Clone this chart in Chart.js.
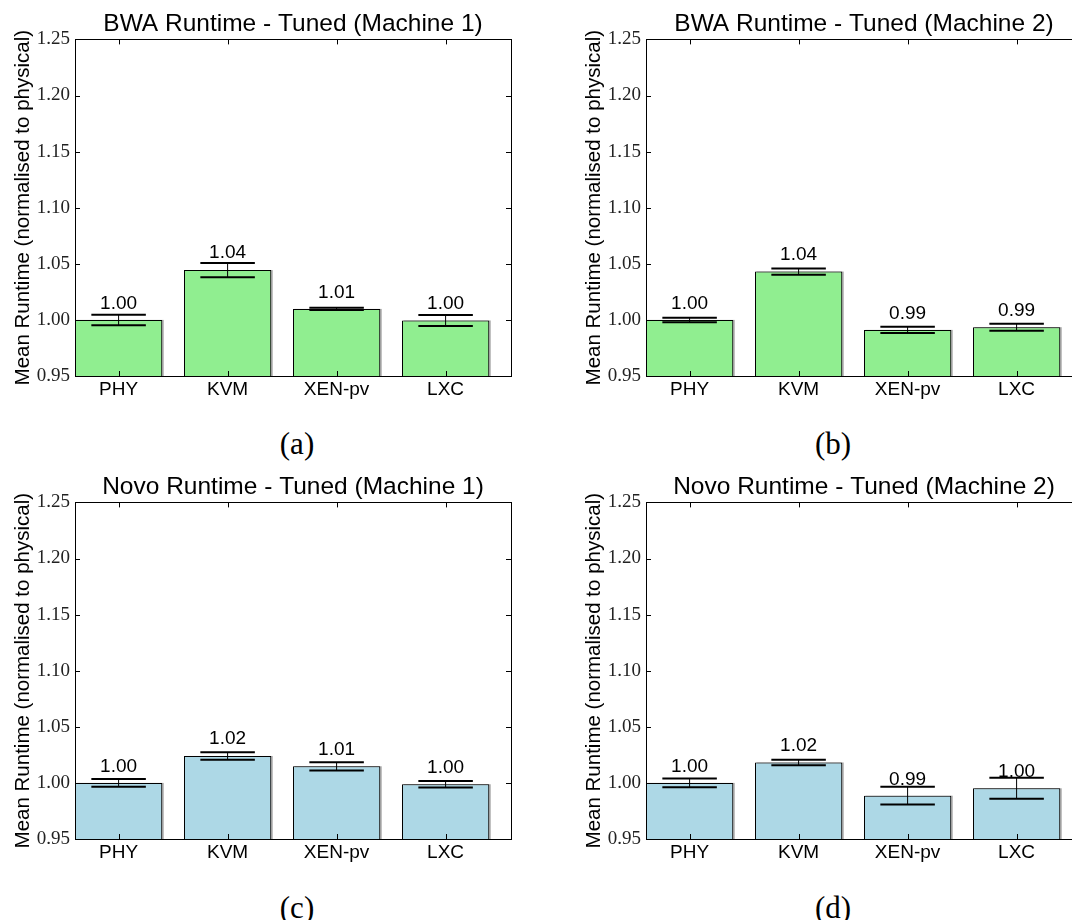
<!DOCTYPE html>
<html>
<head>
<meta charset="utf-8">
<script src="https://cdn.jsdelivr.net/npm/chart.js@4.4.1/dist/chart.umd.min.js"></script>
<style>
  html, body { margin: 0; padding: 0; background: #fff; }
  #page { position: relative; width: 1072px; height: 920px; overflow: hidden; background: #fff; }
  .panel { position: absolute; width: 536px; height: 420px; }
  .panel canvas { display: block; }
  .cap { position: absolute; font-family: 'Liberation Serif', serif; font-size: 31px; color: #000;
         line-height: 1; white-space: nowrap; transform: translate(-50%, -50%); }
</style>
</head>
<body>
<div id="page">
  <div class="panel" style="left:0;top:0"><canvas id="bwa1" width="536" height="420"></canvas></div>
  <div class="panel" style="left:571px;top:0"><canvas id="bwa2" width="536" height="420"></canvas></div>
  <div class="panel" style="left:0;top:463px"><canvas id="novo1" width="536" height="420"></canvas></div>
  <div class="panel" style="left:571px;top:463px"><canvas id="novo2" width="536" height="420"></canvas></div>
  <div class="cap" style="left:297px;top:443px">(a)</div>
  <div class="cap" style="left:833px;top:443px">(b)</div>
  <div class="cap" style="left:297px;top:907px">(c)</div>
  <div class="cap" style="left:833px;top:907px">(d)</div>
</div>
<script>
// Platforms compared in every panel
const categories = ['PHY', 'KVM', 'XEN-pv', 'LXC'];
// Y-axis tick values
const yTicks = [0.95, 1.00, 1.05, 1.10, 1.15, 1.20, 1.25];

// Mean runtime normalised to physical, with error half-widths
const bwaM1Means = [1.000, 1.0444, 1.0098, 0.9995];
const bwaM1Errors = [0.0047, 0.0064, 0.0010, 0.0049];
const bwaM2Means = [1.000, 1.0431, 0.9911, 0.9935];
const bwaM2Errors = [0.0020, 0.0028, 0.0028, 0.0031];
const novoM1Means = [1.000, 1.0240, 1.0148, 0.9988];
const novoM1Errors = [0.0035, 0.0033, 0.0037, 0.0030];
const novoM2Means = [1.000, 1.0182, 0.9886, 0.9952];
const novoM2Errors = [0.0039, 0.0024, 0.0079, 0.0094];

Chart.defaults.font.family = "'Liberation Sans', Arial, sans-serif";
Chart.defaults.color = '#000';

// Soft grey edge to the right of each bar
const barShadow = {
  id: 'barShadow',
  beforeDatasetsDraw(chart) {
    const ctx = chart.ctx;
    const area = chart.chartArea;
    ctx.save();
    ctx.beginPath();
    ctx.rect(area.left, area.top, area.right - area.left, area.bottom - area.top);
    ctx.clip();
    ctx.fillStyle = 'rgba(0,0,0,0.35)';
    chart.getDatasetMeta(0).data.forEach(el => {
      const p = el.getProps(['x', 'y', 'base', 'width'], true);
      ctx.fillRect(p.x - p.width / 2 + 1.5, p.y, p.width, p.base - p.y);
    });
    ctx.restore();
  }
};

// Error bars and value labels
const errorBars = {
  id: 'errorBars',
  afterDatasetsDraw(chart, args, opts) {
    const ctx = chart.ctx;
    const xs = chart.scales.x, ys = chart.scales.y;
    const means = opts.means, errs = opts.errors;
    ctx.save();
    ctx.strokeStyle = '#000';
    means.forEach((m, i) => {
      const x = xs.getPixelForValue(i);
      const yHi = ys.getPixelForValue(m + errs[i]);
      const yLo = ys.getPixelForValue(m - errs[i]);
      const xl = xs.getPixelForValue(i - 0.25);
      const xr = xs.getPixelForValue(i + 0.25);
      ctx.lineWidth = 1;
      ctx.beginPath();
      ctx.moveTo(x, yHi); ctx.lineTo(x, yLo);
      ctx.stroke();
      ctx.lineWidth = 2;
      ctx.beginPath();
      ctx.moveTo(xl, yHi); ctx.lineTo(xr, yHi);
      ctx.moveTo(xl, yLo); ctx.lineTo(xr, yLo);
      ctx.stroke();
    });
    ctx.fillStyle = '#000';
    ctx.font = "19px 'Liberation Sans', Arial, sans-serif";
    ctx.textAlign = 'center';
    ctx.textBaseline = 'alphabetic';
    means.forEach((m, i) => {
      ctx.fillText(m.toFixed(2), xs.getPixelForValue(i), ys.getPixelForValue(m * 1.01));
    });
    ctx.restore();
  }
};

// Plot frame with inward ticks on all four sides
const frame = {
  id: 'frame',
  afterDraw(chart) {
    const ctx = chart.ctx;
    const a = chart.chartArea;
    const xs = chart.scales.x, ys = chart.scales.y;
    const L = 5;
    ctx.save();
    ctx.strokeStyle = '#000';
    ctx.lineWidth = 1;
    ctx.strokeRect(Math.round(a.left) + 0.5, Math.round(a.top) + 0.5,
                   Math.round(a.right - a.left), Math.round(a.bottom - a.top));
    ctx.beginPath();
    xs.ticks.forEach(t => {
      const x = Math.round(xs.getPixelForValue(t.value)) + 0.5;
      ctx.moveTo(x, a.bottom); ctx.lineTo(x, a.bottom - L);
      ctx.moveTo(x, a.top); ctx.lineTo(x, a.top + L);
    });
    ys.ticks.forEach(t => {
      const y = Math.round(ys.getPixelForValue(t.value)) + 0.5;
      ctx.moveTo(a.left, y); ctx.lineTo(a.left + L, y);
      ctx.moveTo(a.right, y); ctx.lineTo(a.right - L, y);
    });
    ctx.stroke();
    ctx.restore();
  }
};

function runtimeChart(id, title, means, errors, color) {
  return new Chart(document.getElementById(id), {
    type: 'bar',
    data: {
      datasets: [{
        data: means.map((v, i) => ({ x: i, y: v })),
        backgroundColor: color,
        borderColor: '#000',
        borderWidth: 1,
        base: 0.95,
        categoryPercentage: 1,
        barPercentage: 0.8
      }]
    },
    options: {
      responsive: false,
      animation: false,
      events: [],
      layout: { padding: { top: 0, left: 0, right: 25, bottom: 20 } },
      plugins: {
        legend: { display: false },
        tooltip: { enabled: false },
        title: {
          display: true, text: title, fullSize: false, color: '#000',
          font: { size: 24.5, weight: 'normal' },
          padding: { top: 10, bottom: 0 }
        },
        errorBars: { means, errors }
      },
      scales: {
        x: {
          type: 'linear', min: -0.4, max: 3.6, offset: false,
          afterBuildTicks: s => { s.ticks = categories.map((_, i) => ({ value: i })); },
          afterFit: s => { s.height = 24; },
          grid: { display: false, drawTicks: false, offset: false },
          border: { display: false },
          ticks: {
            callback: v => categories[v], autoSkip: false, maxRotation: 0,
            padding: 2, color: '#000', font: { size: 19 }
          }
        },
        y: {
          type: 'linear', min: 0.95, max: 1.25,
          afterBuildTicks: s => { s.ticks = yTicks.map(v => ({ value: v })); },
          afterFit: s => { s.width = 75; },
          grid: { display: false, drawTicks: false },
          border: { display: false },
          ticks: {
            callback: v => v.toFixed(2), padding: 5, color: '#222',
            font: { family: "'Liberation Serif', serif", size: 19 }
          },
          title: {
            display: true, text: 'Mean Runtime (normalised to physical)', color: '#000',
            font: { size: 20.5 }, padding: { top: 11, bottom: 0 }
          }
        }
      }
    },
    plugins: [barShadow, errorBars, frame]
  });
}

runtimeChart('bwa1', 'BWA Runtime - Tuned (Machine 1)', bwaM1Means, bwaM1Errors, '#90EE90');
runtimeChart('bwa2', 'BWA Runtime - Tuned (Machine 2)', bwaM2Means, bwaM2Errors, '#90EE90');
runtimeChart('novo1', 'Novo Runtime - Tuned (Machine 1)', novoM1Means, novoM1Errors, '#ADD8E6');
runtimeChart('novo2', 'Novo Runtime - Tuned (Machine 2)', novoM2Means, novoM2Errors, '#ADD8E6');
</script>
</body>
</html>
